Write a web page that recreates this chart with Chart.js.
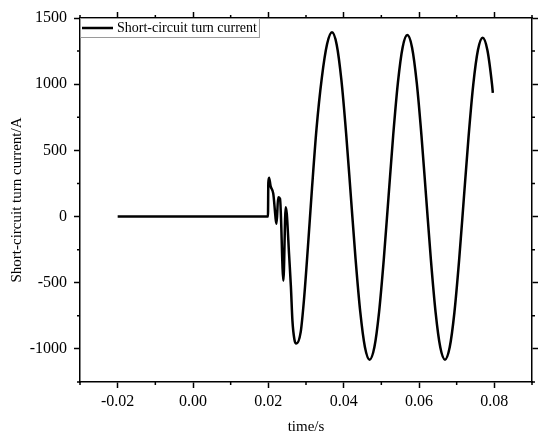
<!DOCTYPE html>
<html lang="en">
<head>
  <meta charset="UTF-8" />
  <title>Short-circuit turn current</title>
  <script src="https://cdn.jsdelivr.net/npm/chart.js"></script>
  <style>
    body {
      margin: 0;
      background: #fff;
    }
  </style>
</head>
<body>
  <canvas id="chart" width="550" height="444"></canvas>

  <script>
    // values
    const timeS = [
      -0.02, 0.0199,
      0.0200, 0.0202, 0.0206, 0.0213, 0.0222, 0.0226, 0.0231, 0.0240, 0.0246, 0.0249,
      0.0255, 0.0260, 0.0264, 0.0269, 0.0274,
      0.0286, 0.0295, 0.0305, 0.0316, 0.0328, 0.0342, 0.0356, 0.0369,
      0.03815, 0.0394, 0.04065, 0.0419, 0.04315, 0.0444, 0.04565, 0.0469,
      0.04815, 0.0494, 0.05065, 0.0519, 0.05315, 0.0544, 0.05565, 0.0569,
      0.05815, 0.0594, 0.06065, 0.0619, 0.06315, 0.0644, 0.06565, 0.0669,
      0.06815, 0.0694, 0.07065, 0.0719, 0.07315, 0.0744, 0.07565, 0.0769,
      0.07815, 0.0794, 0.0796
    ];
    const currentA = [
      0, 0,
      255, 293, 230, 175, -55, 146, 134, -485, 70, 20,
      -283, -535, -788, -925, -960,
      -871, -616, -234, 216, 666, 1048, 1303, 1392,
      1298, 1030, 629, 156, -318, -719, -987, -1081,
      -988, -722, -324, 145, 614, 1012, 1278, 1371,
      1278, 1012, 614, 145, -324, -722, -988, -1081,
      -988, -725, -330, 135, 600, 995, 1258, 1351,
      1258, 995, 935
    ];
    const seriesName = 'Short-circuit turn current';
    const xTickLabels = ['-0.02', '0.00', '0.02', '0.04', '0.06', '0.08'];
    const yTickLabels = ['-1000', '-500', '0', '500', '1000', '1500'];

    const serif = "'Liberation Serif', 'Times New Roman', serif";
    Chart.defaults.color = '#000';
    Chart.defaults.font.family = serif;

    function isMajorX(v) { return Math.abs(Math.round(v * 100)) % 2 === 0; }
    function isMajorY(v) { return Math.round(v) % 500 === 0; }

    function xTickColor(c) { return c.tick && isMajorX(c.tick.value) ? '#000' : 'rgba(0,0,0,0)'; }
    function yTickColor(c) { return c.tick && isMajorY(c.tick.value) ? '#000' : 'rgba(0,0,0,0)'; }

    const gridX = { drawOnChartArea: false, tickLength: 6, tickWidth: 1.5, tickColor: xTickColor };
    const gridY = { drawOnChartArea: false, tickLength: 6, tickWidth: 1.5, tickColor: yTickColor };
    const axisBorder = { display: true, color: '#000', width: 1.5 };

    // short minor ticks on all four sides + boxed legend inside the plot
    const framePlugin = {
      id: 'frame',
      afterDraw(chart) {
        const ctx = chart.ctx;
        const { left, right, top, bottom } = chart.chartArea;
        const xs = chart.scales.x, ys = chart.scales.y;
        ctx.save();
        ctx.strokeStyle = '#000';
        ctx.lineWidth = 1.5;
        ctx.beginPath();
        xs.ticks.forEach(t => {
          if (isMajorX(t.value)) return;
          const px = xs.getPixelForValue(t.value);
          ctx.moveTo(px, bottom); ctx.lineTo(px, bottom + 3);
          ctx.moveTo(px, top); ctx.lineTo(px, top - 3);
        });
        ys.ticks.forEach(t => {
          if (isMajorY(t.value)) return;
          const py = ys.getPixelForValue(t.value);
          ctx.moveTo(left, py); ctx.lineTo(left - 3, py);
          ctx.moveTo(right, py); ctx.lineTo(right + 3, py);
        });
        ctx.stroke();

        const ds = chart.data.datasets[0];
        ctx.font = '14px ' + serif;
        const tw = ctx.measureText(ds.label).width;
        const bw = 37 + tw + 2, bh = 19;
        ctx.strokeStyle = '#9a9a9a';
        ctx.lineWidth = 1;
        ctx.strokeRect(left + 0.5, top + 0.5, bw, bh);
        ctx.strokeStyle = ds.borderColor;
        ctx.lineWidth = ds.borderWidth;
        ctx.beginPath();
        ctx.moveTo(left + 2, top + 10);
        ctx.lineTo(left + 33, top + 10);
        ctx.stroke();
        ctx.fillStyle = '#000';
        ctx.textBaseline = 'middle';
        ctx.fillText(ds.label, left + 37, top + 10.5);
        ctx.restore();
      }
    };

    new Chart(document.getElementById('chart'), {
      type: 'line',
      data: {
        datasets: [{
          label: seriesName,
          data: timeS.map((t, i) => ({ x: t, y: currentA[i] })),
          borderColor: '#000',
          borderWidth: 2.5,
          pointRadius: 0,
          fill: false,
          cubicInterpolationMode: 'monotone'
        }]
      },
      options: {
        responsive: false,
        animation: false,
        layout: { padding: 0 },
        plugins: {
          legend: { display: false },
          tooltip: { enabled: false }
        },
        scales: {
          x: {
            type: 'linear',
            position: 'bottom',
            min: -0.03,
            max: 0.09,
            grid: gridX,
            border: axisBorder,
            ticks: {
              stepSize: 0.01,
              autoSkip: false,
              maxRotation: 0,
              padding: 4,
              font: { size: 16 },
              callback: v => {
                const s = Number(v).toFixed(2);
                return xTickLabels.includes(s) ? s : '';
              }
            },
            title: {
              display: true,
              text: 'time/s',
              font: { size: 15 },
              padding: { top: 0, bottom: 8 }
            },
            afterFit: s => { s.height = 62; }
          },
          x2: {
            type: 'linear',
            position: 'top',
            min: -0.03,
            max: 0.09,
            grid: gridX,
            border: axisBorder,
            ticks: { stepSize: 0.01, display: false, autoSkip: false },
            afterFit: s => { s.height = 18; }
          },
          y: {
            position: 'left',
            min: -1250,
            max: 1500,
            grid: gridY,
            border: axisBorder,
            ticks: {
              stepSize: 250,
              autoSkip: false,
              padding: 7,
              font: { size: 16 },
              callback: v => {
                const s = String(Math.round(v));
                return yTickLabels.includes(s) ? s : '';
              }
            },
            title: {
              display: true,
              text: 'Short-circuit turn current/A',
              font: { size: 15 },
              padding: { top: 8, bottom: 0 }
            },
            afterFit: s => { s.width = 80; }
          },
          y2: {
            position: 'right',
            min: -1250,
            max: 1500,
            grid: gridY,
            border: axisBorder,
            ticks: { stepSize: 250, display: false, autoSkip: false },
            afterFit: s => { s.width = 18; }
          }
        }
      },
      plugins: [framePlugin]
    });
  </script>
</body>
</html>
